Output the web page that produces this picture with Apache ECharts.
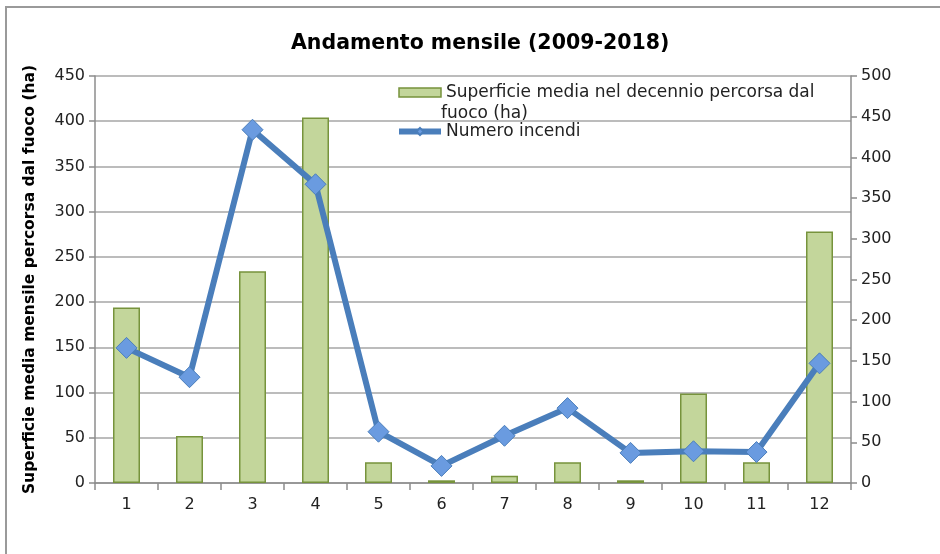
<!DOCTYPE html>
<html>
<head>
<meta charset="utf-8">
<script src="https://cdn.jsdelivr.net/npm/echarts@6/dist/echarts.min.js"></script>
<style>html,body{margin:0;padding:0;background:#fff;}#c{width:940px;height:554px;}</style>
</head>
<body>
<div id="c"></div>
<script>
const categories = ['1','2','3','4','5','6','7','8','9','10','11','12'];
const superficie = [194, 52, 234, 404, 23, 3, 8, 23, 3, 99, 23, 278];
const incendi = [166, 130, 434, 367, 63, 21, 58, 92, 37, 39, 38, 147];
const leftTicks = {min: 0, max: 450, interval: 50};
const rightTicks = {min: 0, max: 500, interval: 50};
const nameBar = 'Superficie media nel decennio percorsa dal fuoco (ha)';
const nameLine = 'Numero incendi';

const chart = echarts.init(document.getElementById('c'), null, {renderer: 'canvas'});
const font = 'DejaVu Sans';
chart.setOption({
  backgroundColor: '#fff',
  animation: false,
  title: {
    text: 'Andamento mensile (2009-2018)',
    left: 286, top: 28,
    textStyle: {fontFamily: font, fontWeight: 'bold', fontSize: 20.5, color: '#000'}
  },
  graphic: [{
    type: 'rect', shape: {x: 6, y: 7, width: 1000, height: 700},
    style: {fill: 'none', stroke: '#9a9a9a', lineWidth: 2}, silent: true, z: 100
  }, {
    type: 'text', left: 441, top: 105,
    style: {text: 'fuoco (ha)', fontFamily: font, fontSize: 17, fill: '#222'}, silent: true
  }],
  legend: {
    orient: 'vertical', left: 391, top: 79, itemGap: 22,
    itemWidth: 42, itemHeight: 9,
    textStyle: {fontFamily: font, fontSize: 17, color: '#222'},
    formatter: function (n) { return n === nameBar ? 'Superficie media nel decennio percorsa dal' : n; },
    data: [
      {name: nameBar, icon: 'rect', itemStyle: {color: '#c3d69b', borderColor: '#77933c', borderWidth: 1.5}},
      {name: nameLine, itemStyle: {color: '#6a9be0', borderColor: '#4a7ebb'}, lineStyle: {width: 6, color: '#4a7ebb'}}
    ]
  },
  grid: {left: 95, right: 89, top: 76, bottom: 71},
  xAxis: {
    type: 'category', data: categories, boundaryGap: true,
    axisLine: {lineStyle: {color: '#8c8c8c', width: 1.5}},
    axisTick: {show: true, length: 7, alignWithLabel: false, lineStyle: {color: '#8c8c8c', width: 1.5}},
    axisLabel: {fontFamily: font, fontSize: 16, color: '#222', margin: 14}
  },
  yAxis: [{
    type: 'value', min: leftTicks.min, max: leftTicks.max, interval: leftTicks.interval,
    name: 'Superficie media mensile percorsa dal fuoco (ha)',
    nameLocation: 'middle', nameGap: 57, nameRotate: 90,
    nameTextStyle: {fontFamily: font, fontWeight: 'bold', fontSize: 15.5, color: '#000'},
    axisLine: {show: true, lineStyle: {color: '#8c8c8c', width: 1.5}},
    axisTick: {show: true, length: 6, lineStyle: {color: '#8c8c8c', width: 1.5}},
    axisLabel: {fontFamily: font, fontSize: 16, color: '#222', margin: 10},
    splitLine: {lineStyle: {color: '#a6a6a6', width: 1.5}}
  }, {
    type: 'value', min: rightTicks.min, max: rightTicks.max, interval: rightTicks.interval,
    position: 'right',
    axisLine: {show: true, lineStyle: {color: '#8c8c8c', width: 1.5}},
    axisTick: {show: true, length: 6, lineStyle: {color: '#8c8c8c', width: 1.5}},
    axisLabel: {fontFamily: font, fontSize: 16, color: '#222', margin: 10},
    splitLine: {show: false}
  }],
  series: [{
    name: nameBar, type: 'bar', yAxisIndex: 0, data: superficie,
    barWidth: 27,
    itemStyle: {color: '#c3d69b', borderColor: '#77933c', borderWidth: 1.5}
  }, {
    name: nameLine, type: 'line', yAxisIndex: 1, data: incendi,
    symbol: 'diamond', symbolSize: 21,
    lineStyle: {color: '#4a7ebb', width: 6},
    itemStyle: {color: '#6a9be0', borderColor: '#4a7ebb', borderWidth: 1}
  }]
});
</script>
</body>
</html>
